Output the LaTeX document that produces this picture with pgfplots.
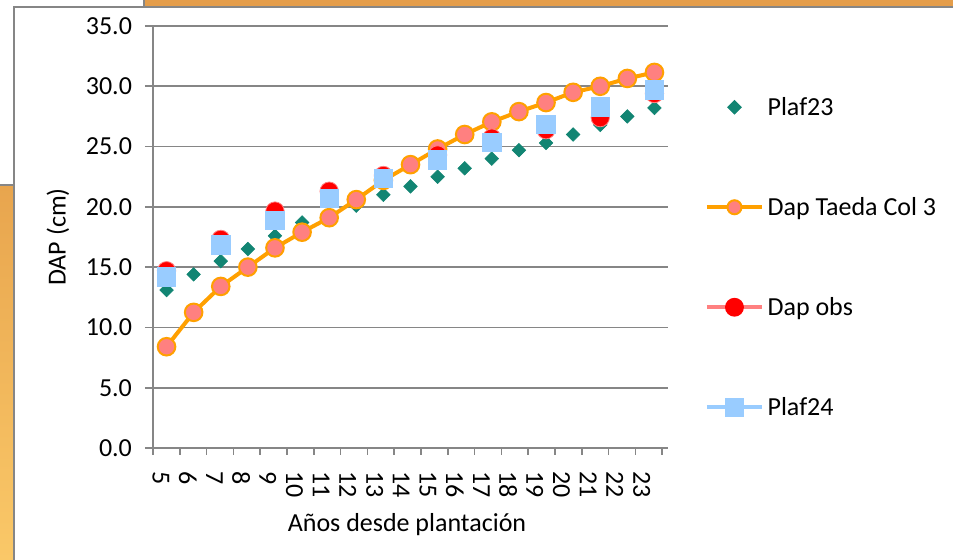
\documentclass[border=0pt]{standalone}
\usepackage{fontspec}
\setmainfont{Carlito}
\usepackage{pgfplots}
\usepackage{pgfplotstable}
\pgfplotsset{compat=1.18}

\definecolor{gridgray}{RGB}{134,134,134}
\definecolor{teal23}{RGB}{18,133,115}
\definecolor{taeda}{RGB}{255,160,0}
\definecolor{salmon}{RGB}{255,128,128}
\definecolor{obsred}{RGB}{255,0,0}
\definecolor{sky}{RGB}{153,204,255}
\definecolor{framebar}{RGB}{228,157,74}
\definecolor{stripTop}{RGB}{232,165,78}
\definecolor{stripBot}{RGB}{250,200,104}

% yearly series (x = 0 for age 5 ... 18 for age 23)
\pgfplotstableread{
x  plaf23 taeda
0  13.1   8.4
1  14.4  11.25
2  15.5  13.4
3  16.5  15.0
4  17.6  16.6
5  18.7  17.9
6  19.4  19.1
7  20.1  20.6
8  21.0  22.2
9  21.7  23.5
10 22.5  24.8
11 23.2  26.0
12 24.0  27.05
13 24.7  27.9
14 25.3  28.65
15 26.0  29.5
16 26.8  30.0
17 27.5  30.65
18 28.2  31.15
}\yearly

% measurements every second year
\pgfplotstableread{
x  obs   plaf24
0  14.7  14.2
2  17.3  16.85
4  19.65 18.9
6  21.3  20.7
8  22.6  22.35
10 24.3  23.9
12 25.7  25.35
14 26.4  26.85
16 27.4  28.3
18 29.4  29.7
}\measured

\newcommand{\lbl}{\fontsize{13}{15.6}\selectfont}

\begin{document}
\begin{tikzpicture}
% slide frame behind the chart (units: 1 = 0.5pt, y downwards)
\begin{scope}[x=0.5pt,y=-0.5pt,shift={(-76.5pt,224pt)}]
  \path[use as bounding box, fill=white] (0,0) rectangle (953,560);
  \fill[framebar] (144,0) rectangle (953,7);
  \shade[top color=stripTop, bottom color=stripBot] (0,185) rectangle (14,560);
  \draw[gridgray, line width=1pt] (0,185) -- (14,185);
  \draw[gridgray, line width=0.6pt] (144,0) -- (144,7);
  \draw[gridgray, line width=1pt] (953,7) -- (14,7) -- (14,560);
\end{scope}

\begin{axis}[
  at={(0pt,0pt)}, anchor=south west,
  scale only axis, width=257.5pt, height=211pt,
  xmin=-0.5, xmax=18.5, ymin=0, ymax=35,
  clip=false,
  axis lines*=left,
  axis line style={gridgray, line width=1pt},
  ymajorgrids, grid style={gridgray, line width=0.9pt},
  ytick={0,5,...,35},
  xtick={-0.205,0.780,1.765,2.750,3.735,4.720,5.706,6.691,7.676,8.661,9.646,10.631,11.616,12.601,13.586,14.571,15.556,16.541,17.526},
  xticklabels={5,6,7,8,9,10,11,12,13,14,15,16,17,18,19,20,21,22,23},
  minor xtick={-0.5,0.489,1.478,2.466,3.455,4.444,5.433,6.422,7.410,8.399,9.388,10.377,11.366,12.354,13.343,14.332,15.321,16.310,17.298,18.287},
  tick align=outside,
  major tick length=4pt, minor tick length=3.5pt,
  tick style={gridgray, line width=0.8pt},
  every major x tick/.append style={draw=none},
  /pgf/number format/assume math mode=true,
  /pgf/number format/fixed,
  /pgf/number format/fixed zerofill,
  /pgf/number format/precision=1,
  ticklabel style={font=\lbl},
  xticklabel style={rotate=-90, anchor=west},
  xticklabel shift=4pt,
  yticklabel shift=3pt,
  label style={font=\lbl},
  xlabel={Años desde plantación},
  ylabel={DAP (cm)},
  xlabel style={at={(axis description cs:0.4932,-0.1983)}, anchor=base},
  ylabel style={at={(axis description cs:-0.1845,0.5)}, anchor=center},
  legend style={draw=none, fill=none, at={(1.0718,0.452)}, anchor=west,
    inner sep=0pt, outer sep=0pt, row sep=36.4pt, column sep=1.8pt, font=\lbl,
    nodes={inner sep=0pt, text height=11pt, text depth=2.6pt}},
  legend cell align=left,
  legend image code/.code={\draw[mark repeat=2,mark phase=2,#1] plot coordinates {(0pt,0pt) (13.75pt,0pt) (27.5pt,0pt)};},
]
\addplot[forget plot, only marks, mark=square*, mark size=2.4pt,
  mark options={rotate=45, fill=teal23, draw=teal23, line width=0.3pt}]
  table[x=x, y=plaf23] {\yearly};
\addplot[forget plot, taeda, line width=2pt, mark=*, mark size=4.4pt,
  mark options={fill=salmon, draw=taeda, line width=1pt}]
  table[x=x, y=taeda] {\yearly};
\addplot[forget plot, only marks, mark=*, mark size=4.6pt,
  mark options={fill=obsred, draw=salmon, line width=0.4pt}]
  table[x=x, y=obs] {\measured};
\addplot[forget plot, only marks, mark=square*, mark size=4.6pt,
  mark options={fill=sky, draw=sky}]
  table[x=x, y=plaf24] {\measured};

\addlegendimage{only marks, mark=square*, mark size=2.4pt, mark options={rotate=45, fill=teal23, draw=teal23}}
\addlegendentry{Plaf23}
\addlegendimage{taeda, line width=2pt, mark=*, mark size=3.5pt, mark options={fill=salmon, draw=taeda, line width=1pt}}
\addlegendentry{Dap Taeda Col 3}
\addlegendimage{salmon, line width=2pt, mark=*, mark size=3.7pt, mark options={fill=obsred, draw=obsred}}
\addlegendentry{Dap obs}
\addlegendimage{sky, line width=2pt, mark=square*, mark size=3.8pt, mark options={fill=sky, draw=sky}}
\addlegendentry{Plaf24}
\end{axis}
\end{tikzpicture}
\end{document}
